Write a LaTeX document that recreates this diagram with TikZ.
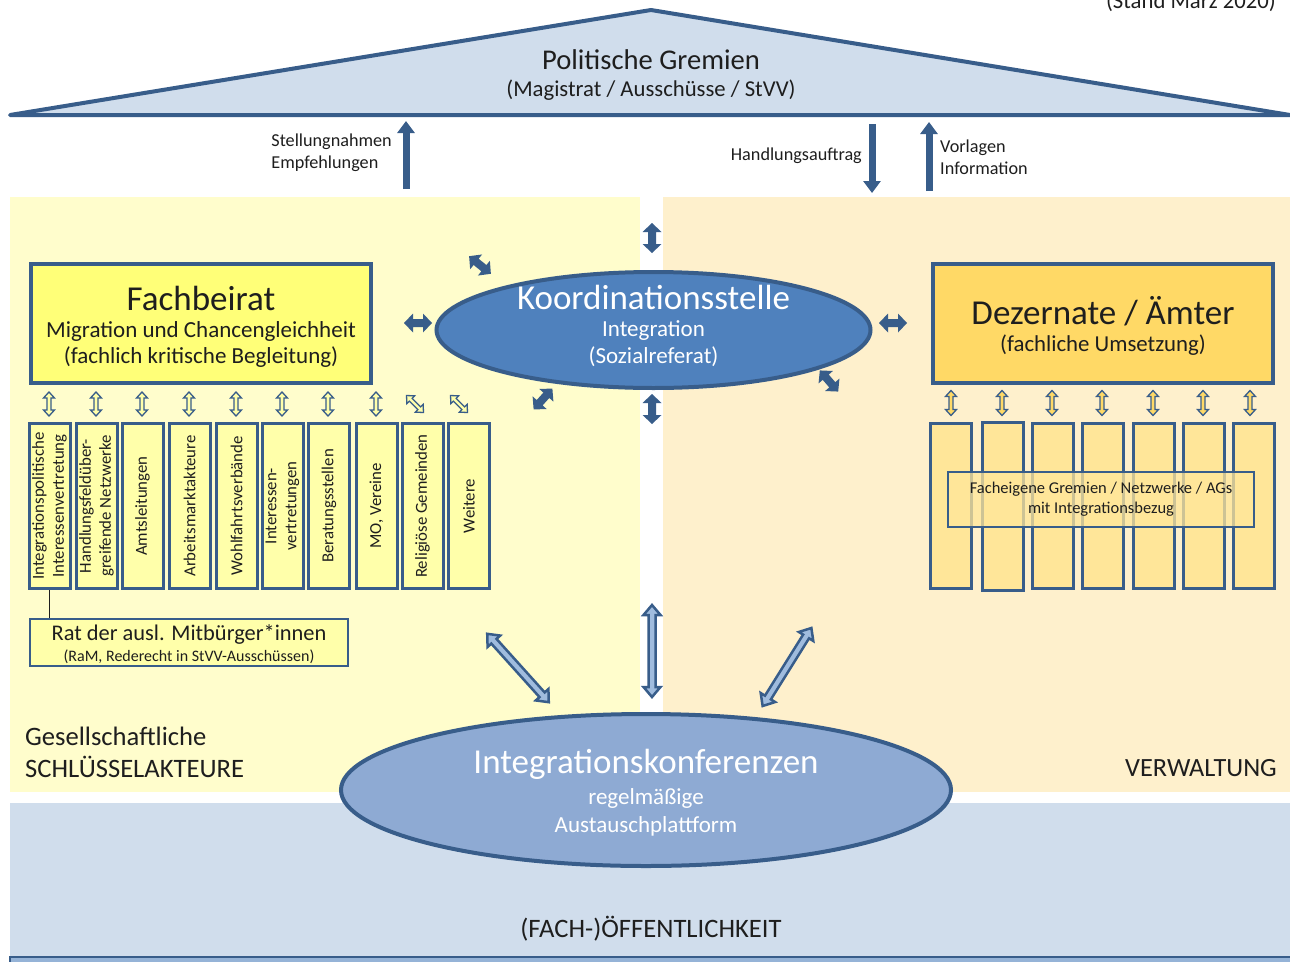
\documentclass[tikz,border=0pt]{standalone}
\usepackage{fontspec}
\setmainfont{Carlito}
\usetikzlibrary{shapes.geometric,arrows.meta}
\definecolor{dkblue}{RGB}{56,93,138}
\definecolor{koordfill}{RGB}{79,129,189}
\definecolor{ikfill}{RGB}{142,170,211}
\definecolor{roofc}{RGB}{208,221,236}
\definecolor{leftbg}{RGB}{255,253,204}
\definecolor{rightbg}{RGB}{254,240,204}
\definecolor{fbfill}{RGB}{255,255,120}
\definecolor{dzfill}{RGB}{255,217,102}
\definecolor{lboxc}{RGB}{255,255,170}
\definecolor{rboxc}{RGB}{255,230,153}
\definecolor{txtc}{RGB}{30,30,30}
\definecolor{lightarr}{RGB}{160,188,222}
\definecolor{bandc}{RGB}{149,179,215}
\newcommand\fsz[2]{\fontsize{#1}{#2}\selectfont}
% double block arrow: style, center, angle, length, shaft half width, head half width, head length
\newcommand\dblarrow[7]{%
 \begin{scope}[shift={(#2)},rotate=#3,x=1pt,y=1pt]
 \path[#1] (-#4/2,0) -- (-#4/2+#7,#6) -- (-#4/2+#7,#5) -- (#4/2-#7,#5) -- (#4/2-#7,#6) -- (#4/2,0)
   -- (#4/2-#7,-#6) -- (#4/2-#7,-#5) -- (-#4/2+#7,-#5) -- (-#4/2+#7,-#6) -- cycle;
 \end{scope}}
\tikzset{
 txt/.style={text=txtc,inner sep=0},
 koordarr/.style={fill=dkblue},
 ikarr/.style={fill=lightarr,draw=dkblue,line width=2.5,line join=miter},
 smallL/.style={fill=lboxc,draw=dkblue,line width=1.3},
 smallR/.style={fill=dzfill,draw=dkblue,line width=1.3},
 toparr/.style={draw=dkblue,line width=7,-{Triangle[width=17pt,length=12pt]}},
 lbox/.style={draw=dkblue,line width=3,fill=lboxc,rotate=90,minimum width=165,minimum height=41,inner sep=0,align=center,text=txtc,font=\fsz{16.8}{20}},
 rbox/.style={draw=dkblue,line width=3,fill=rboxc,minimum width=41,minimum height=165,inner sep=0},
 bigbox/.style={draw=dkblue,line width=3.5,minimum width=340,minimum height=119,inner sep=0},
}
\begin{document}
\begin{tikzpicture}[x=1pt,y=-1pt]
\useasboundingbox (0,0) rectangle (1290,961);
\fill[white] (0,0) rectangle (1290,961);
% backgrounds
\fill[leftbg] (10,197) rectangle (640,792);
\fill[rightbg] (663,197) rectangle (1290,792);
\fill[roofc] (10,803) rectangle (1290,961);
\filldraw[fill=bandc,draw=dkblue,line width=1.5] (10,957) rectangle (1292,975);
% roof
\filldraw[fill=roofc,draw=dkblue,line width=4,line join=round] (10,115) -- (651,10) -- (1290,115) -- cycle;
\node[txt,font=\fsz{28.6}{34}] (pg) at (651,60) {Politische Gremien};
\node[txt,font=\fsz{22.7}{27}] (mag) at (651,90) {(Magistrat / Ausschüsse / StVV)};
\node[txt,font=\fsz{22.7}{27},anchor=base east] (stand) at (1276,9) {(Stand März 2020)};
% top arrows
\coordinate (a1s) at (406,189); \coordinate (a1e) at (406,121);
\coordinate (a2s) at (872,124); \coordinate (a2e) at (872,193);
\coordinate (a3s) at (929,191); \coordinate (a3e) at (929,122);
\draw[toparr] (a1s) -- (a1e);
\draw[toparr] (a2s) -- (a2e);
\draw[toparr] (a3s) -- (a3e);
\node[txt,font=\fsz{18.2}{22},align=left,anchor=east] (stel) at (392,153) {Stellungnahmen\\Empfehlungen};
\node[txt,font=\fsz{18.2}{22},anchor=east] (hand) at (862,156) {Handlungsauftrag};
\node[txt,font=\fsz{18.2}{22},align=left,anchor=west] (vorl) at (940,157) {Vorlagen\\Information};
% Koordinationsstelle arrows
\coordinate (k1) at (652,238); \coordinate (k2) at (652,409);
\coordinate (k3) at (418,323); \coordinate (k4) at (893,323);
\coordinate (k5) at (480,265); \coordinate (k6) at (543,399); \coordinate (k7) at (829,381);
\dblarrow{koordarr}{k1}{90}{30}{4}{9.5}{9}
\dblarrow{koordarr}{k2}{90}{30}{4}{9.5}{9}
\dblarrow{koordarr}{k3}{0}{28}{4}{9.5}{9}
\dblarrow{koordarr}{k4}{0}{28}{4}{9.5}{9}
\dblarrow{koordarr}{k5}{-39}{28}{4}{9.5}{9}
\dblarrow{koordarr}{k6}{48}{28}{4}{9.5}{9}
\dblarrow{koordarr}{k7}{-49}{28}{4}{9.5}{9}
% IK arrows
\coordinate (i1) at (518,668); \coordinate (i2) at (652,651); \coordinate (i3) at (787,667);
\dblarrow{ikarr}{i1}{-48}{92}{3.5}{8.5}{10}
\dblarrow{ikarr}{i2}{90}{92}{3.5}{8.5}{10}
\dblarrow{ikarr}{i3}{58}{92}{3.5}{8.5}{10}
% small left arrows
\foreach \x [count=\i] in {49,96,142,189,236,282,328,376}{
  \coordinate (sl\i) at (\x,404);
  \dblarrow{smallL}{sl\i}{90}{24}{2}{5.5}{6}}
\coordinate (sl9) at (415,404); \coordinate (sl10) at (459,404);
\dblarrow{smallL}{sl9}{-45}{24}{2}{5.5}{6}
\dblarrow{smallL}{sl10}{-45}{24}{2}{5.5}{6}
% small right arrows
\foreach \x [count=\i] in {951,1002,1052,1102,1153,1203,1250}{
  \coordinate (sr\i) at (\x,403);
  \dblarrow{smallR}{sr\i}{90}{25}{2}{5.5}{6}}
% big boxes
\node[bigbox,fill=fbfill] (fb) at (201,323.5) {};
\node[txt,font=\fsz{35}{40}] (fbt) at (201,298) {Fachbeirat};
\node[txt,font=\fsz{23}{27}] (fbt2) at (201,331) {Migration und Chancengleichheit};
\node[txt,font=\fsz{23}{27}] (fbt3) at (201,357) {(fachlich kritische Begleitung)};
\node[bigbox,fill=dzfill] (dz) at (1103,323.5) {};
\node[txt,font=\fsz{35}{40}] (dzt) at (1103,311) {Dezernate / Ämter};
\node[txt,font=\fsz{22.8}{27}] (dzt2) at (1103,345) {(fachliche Umsetzung)};
% left boxes
\node[lbox] (lb1) at (49.5,506) {Integrationspolitische\\Interessenvertretung};
\node[lbox] (lb2) at (96.5,506) {Handlungsfeldüber-\\greifende Netzwerke};
\node[lbox] (lb3) at (142.5,506) {Amtsleitungen};
\node[lbox] (lb4) at (189.5,506) {Arbeitsmarktakteure};
\node[lbox] (lb5) at (236.5,506) {Wohlfahrtsverbände};
\node[lbox] (lb6) at (282.5,506) {Interessen-\\vertretungen};
\node[lbox] (lb7) at (329,506) {Beratungsstellen};
\node[lbox] (lb8) at (376.5,506) {MO, Vereine};
\node[lbox] (lb9) at (422.5,506) {Religiöse Gemeinden};
\node[lbox] (lb10) at (469,506) {Weitere};
% Rat
\node[draw=dkblue,line width=2,fill=lboxc,minimum width=318,minimum height=47,inner sep=0] (rat) at (189,642.5) {};
\node[txt,font=\fsz{22.4}{26}] (ratt) at (189,634) {Rat der ausl. Mitbürger*innen};
\node[txt,font=\fsz{16}{19}] (ratt2) at (189,657) {(RaM, Rederecht in StVV-Ausschüssen)};
\draw[txtc,line width=1.2] (lb1.west) -- (lb1.west |- rat.north);
% right boxes
\foreach \x [count=\i] in {951,1002.5,1052.5,1102.5,1153.5,1203.5,1254}{
  \node[rbox] (rb\i) at (\x,506) {};}
\node[rbox,minimum height=168] (rb2x) at (1002.5,506) {};
\node[draw=dkblue,line width=2,fill=rboxc,fill opacity=0.75,text opacity=1,minimum width=306,minimum height=55,inner sep=0,align=center,text=txtc,font=\fsz{16.5}{20}] (feg) at (1101,499.5) {Facheigene Gremien / Netzwerke / AGs\\mit Integrationsbezug};
% ellipses
\node[ellipse,draw=dkblue,line width=4,fill=koordfill,minimum width=434,minimum height=116,inner sep=0] (ko) at (653.5,330) {};
\node[inner sep=0,text=white,font=\fsz{35}{40}] (kot) at (653.5,297) {Koordinationsstelle};
\node[inner sep=0,text=white,font=\fsz{23}{27}] (kot2) at (653.5,331) {Integration};
\node[inner sep=0,text=white,font=\fsz{23}{27}] (kot3) at (653.5,357) {(Sozialreferat)};
\node[ellipse,draw=dkblue,line width=4,fill=ikfill,minimum width=610,minimum height=152,inner sep=0] (ik) at (646,790) {};
\node[inner sep=0,text=white,font=\fsz{35}{40}] (ikt) at (646,764) {Integrationskonferenzen};
\node[inner sep=0,text=white,font=\fsz{23}{27}] (ikt2) at (646,798) {regelmäßige};
\node[inner sep=0,text=white,font=\fsz{23}{27}] (ikt3) at (646,826) {Austauschplattform};
% region labels
\node[txt,font=\fsz{26.6}{32},align=left,anchor=west] (gs) at (25,752) {Gesellschaftliche\\SCHLÜSSELAKTEURE};
\node[txt,font=\fsz{26.3}{30},anchor=east] (vw) at (1277,768) {VERWALTUNG};
\node[txt,font=\fsz{26.6}{30}] (fo) at (651,929) {(FACH-)ÖFFENTLICHKEIT};
\end{tikzpicture}
\end{document}
